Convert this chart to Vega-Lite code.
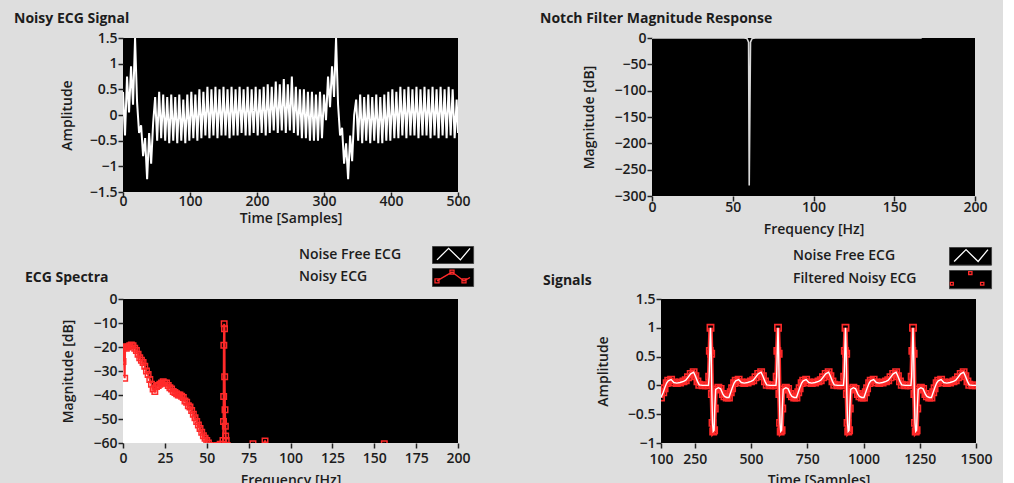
{
  "$schema": "https://vega.github.io/schema/vega-lite/v6.json",
  "background": "#dedede",
  "padding": {"left": 14, "top": 12, "right": 10, "bottom": 0},
  "bounds": "flush",
  "spacing": 261,
  "resolve": {"scale": {"color": "independent"}, "legend": {"color": "independent"}},
  "config": {
    "view": {"fill": "black", "stroke": null},
    "font": "Open Sans",
    "axis": {"labelFont": "Open Sans", "labelFontSize": 14, "labelFontWeight": 600, "labelColor": "#1c1c1c", "titleFont": "Open Sans", "titleFontSize": 14, "titleFontWeight": 600, "titleColor": "#1c1c1c", "tickColor": "#222222", "tickSize": 5, "tickWidth": 1.5, "domain": false, "grid": false, "labelFlush": false, "labelOverlap": false},
    "axisX": {"labelPadding": 0, "titleBaseline": "alphabetic"},
    "axisY": {"labelPadding": 1, "titleBaseline": "middle"},
    "title": {"font": "Open Sans", "fontSize": 14, "fontWeight": 700, "color": "#1c1c1c", "anchor": "start", "frame": "group", "baseline": "alphabetic"},
    "legend": {"labelFont": "Open Sans", "labelFontSize": 14, "labelFontWeight": 600, "labelColor": "#1c1c1c"}
  },
  "vconcat": [
    {
      "hconcat": [
        {
          "width": 335, "height": 154,
          "title": {"text": "Noisy ECG Signal", "dx": -109, "offset": 5},
          "data": {"values": [
{"t":0,"v":0.45},{"t":3,"v":-0.4},{"t":6,"v":0.75},{"t":9,"v":0.05},{"t":12,"v":0.95},{"t":15,"v":0.2},{"t":18,"v":1.5},{"t":21,"v":0.25},{"t":24,"v":-0.35},{"t":27,"v":-0.2},{"t":30,"v":-0.8},{"t":33,"v":-0.45},{"t":36,"v":-1.25},{"t":39,"v":-0.35},{"t":42,"v":-0.95},{"t":45,"v":-0.15},{"t":48,"v":0.35},{"t":51,"v":-0.5},{"t":54,"v":0.45},{"t":57,"v":-0.45},{"t":60,"v":0.4},{"t":63,"v":-0.5},{"t":66,"v":0.35},{"t":69,"v":-0.55},{"t":72,"v":0.4},{"t":75,"v":-0.5},{"t":78,"v":0.35},{"t":81,"v":-0.55},{"t":84,"v":0.4},{"t":87,"v":-0.5},{"t":90,"v":0.3},{"t":93,"v":-0.55},{"t":96,"v":0.4},{"t":99,"v":-0.5},{"t":102,"v":0.45},{"t":105,"v":-0.45},{"t":108,"v":0.4},{"t":111,"v":-0.5},{"t":114,"v":0.5},{"t":117,"v":-0.45},{"t":120,"v":0.45},{"t":123,"v":-0.4},{"t":126,"v":0.55},{"t":129,"v":-0.45},{"t":132,"v":0.5},{"t":135,"v":-0.4},{"t":138,"v":0.55},{"t":141,"v":-0.45},{"t":144,"v":0.5},{"t":147,"v":-0.4},{"t":150,"v":0.55},{"t":153,"v":-0.4},{"t":156,"v":0.5},{"t":159,"v":-0.45},{"t":162,"v":0.55},{"t":165,"v":-0.4},{"t":168,"v":0.5},{"t":171,"v":-0.4},{"t":174,"v":0.55},{"t":177,"v":-0.35},{"t":180,"v":0.5},{"t":183,"v":-0.4},{"t":186,"v":0.55},{"t":189,"v":-0.4},{"t":192,"v":0.5},{"t":195,"v":-0.35},{"t":198,"v":0.55},{"t":201,"v":-0.4},{"t":204,"v":0.5},{"t":207,"v":-0.35},{"t":210,"v":0.55},{"t":213,"v":-0.4},{"t":216,"v":0.6},{"t":219,"v":-0.35},{"t":222,"v":0.55},{"t":225,"v":-0.3},{"t":228,"v":0.65},{"t":231,"v":-0.35},{"t":234,"v":0.6},{"t":237,"v":-0.3},{"t":240,"v":0.7},{"t":243,"v":-0.35},{"t":246,"v":0.6},{"t":249,"v":-0.3},{"t":252,"v":0.75},{"t":255,"v":-0.35},{"t":258,"v":0.55},{"t":261,"v":-0.4},{"t":264,"v":0.5},{"t":267,"v":-0.45},{"t":270,"v":0.5},{"t":273,"v":-0.45},{"t":276,"v":0.45},{"t":279,"v":-0.5},{"t":282,"v":0.45},{"t":285,"v":-0.5},{"t":288,"v":0.4},{"t":291,"v":-0.5},{"t":294,"v":0.45},{"t":297,"v":-0.45},{"t":300,"v":0.4},{"t":303,"v":-0.1},{"t":306,"v":0.75},{"t":309,"v":0.15},{"t":312,"v":0.95},{"t":315,"v":0.35},{"t":318,"v":1.5},{"t":321,"v":0.2},{"t":324,"v":-0.4},{"t":327,"v":-0.25},{"t":330,"v":-0.95},{"t":333,"v":-0.55},{"t":336,"v":-1.25},{"t":339,"v":-0.4},{"t":342,"v":-0.9},{"t":345,"v":0.0},{"t":348,"v":0.3},{"t":351,"v":-0.5},{"t":354,"v":0.4},{"t":357,"v":-0.55},{"t":360,"v":0.35},{"t":363,"v":-0.5},{"t":366,"v":0.4},{"t":369,"v":-0.55},{"t":372,"v":0.35},{"t":375,"v":-0.5},{"t":378,"v":0.4},{"t":381,"v":-0.55},{"t":384,"v":0.35},{"t":387,"v":-0.55},{"t":390,"v":0.4},{"t":393,"v":-0.5},{"t":396,"v":0.45},{"t":399,"v":-0.5},{"t":402,"v":0.5},{"t":405,"v":-0.45},{"t":408,"v":0.45},{"t":411,"v":-0.45},{"t":414,"v":0.55},{"t":417,"v":-0.4},{"t":420,"v":0.5},{"t":423,"v":-0.45},{"t":426,"v":0.55},{"t":429,"v":-0.4},{"t":432,"v":0.5},{"t":435,"v":-0.4},{"t":438,"v":0.55},{"t":441,"v":-0.45},{"t":444,"v":0.5},{"t":447,"v":-0.4},{"t":450,"v":0.55},{"t":453,"v":-0.4},{"t":456,"v":0.5},{"t":459,"v":-0.45},{"t":462,"v":0.55},{"t":465,"v":-0.4},{"t":468,"v":0.5},{"t":471,"v":-0.45},{"t":474,"v":0.55},{"t":477,"v":-0.4},{"t":480,"v":0.5},{"t":483,"v":-0.45},{"t":486,"v":0.55},{"t":489,"v":-0.4},{"t":492,"v":0.5},{"t":495,"v":-0.45},{"t":498,"v":0.3},{"t":500,"v":-0.35}
          ]},
          "mark": {"type": "line", "color": "white", "strokeWidth": 2, "clip": true},
          "encoding": {
            "x": {"field": "t", "type": "quantitative", "scale": {"domain": [0, 500], "nice": false}, "axis": {"values": [0, 100, 200, 300, 400, 500], "title": "Time  [Samples]", "titleY": 30, "labelPadding": -3}},
            "y": {"field": "v", "type": "quantitative", "scale": {"domain": [-1.5, 1.5], "nice": false}, "axis": {"values": [-1.5, -1, -0.5, 0, 0.5, 1, 1.5], "format": "~g", "title": "Amplitude", "titleX": -56}}
          }
        },
        {
          "width": 323, "height": 158,
          "title": {"text": "Notch Filter Magnitude Response", "dx": -112, "offset": 5},
          "data": {"values": [
{"f":0,"db":0},{"f":57,"db":0},{"f":58.8,"db":-1},{"f":59.8,"db":-8},{"f":60.2,"db":-280},{"f":60.6,"db":-145},{"f":61.0,"db":-8},{"f":62,"db":-1},{"f":64,"db":0},{"f":167,"db":0}
          ]},
          "mark": {"type": "line", "color": "#d8d8d8", "strokeWidth": 1.6, "clip": true},
          "encoding": {
            "x": {"field": "f", "type": "quantitative", "scale": {"domain": [0, 200], "nice": false}, "axis": {"values": [0, 50, 100, 150, 200], "title": "Frequency [Hz]", "titleY": 37, "labelPadding": -1}},
            "y": {"field": "db", "type": "quantitative", "scale": {"domain": [-300, 0], "nice": false}, "axis": {"values": [-300, -250, -200, -150, -100, -50, 0], "title": "Magnitude [dB]", "titleX": -63}}
          }
        }
      ],
      "spacing": 194,
      "bounds": "flush"
    },
    {
      "hconcat": [
        {
          "width": 335, "height": 144,
          "title": {"text": "ECG Spectra", "dx": -98, "dy": 39, "offset": 0},
          "encoding": {
            "x": {"field": "f", "type": "quantitative", "scale": {"domain": [0, 200], "nice": false}, "axis": {"values": [0, 25, 50, 75, 100, 125, 150, 175, 200], "title": "Frequency [Hz]", "titleY": 41, "labelPadding": 3}},
            "y": {"field": "db", "type": "quantitative", "scale": {"domain": [-60, 0], "nice": false}, "axis": {"values": [-60, -50, -40, -30, -20, -10, 0], "title": "Magnitude [dB]", "titleX": -55}},
            "color": {
              "field": "series", "type": "nominal",
              "scale": {"domain": ["Noise Free ECG", "Noisy ECG"], "range": ["#ffffff", "#ff2a2a"]},
              "legend": {
                "orient": "none", "legendX": 309, "legendY": -53, "title": null, "padding": 0,
                "symbolSize": 1600, "symbolStrokeWidth": 1.5, "symbolFillColor": "black", "labelOffset": -175, "labelAlign": "left", "labelBaseline": "alphabetic", "rowPadding": 4,
                "encode": {
                  "entries": {"update": {"fill": {"value": "black"}, "stroke": {"value": "#444444"}, "width": {"value": 40}, "height": {"value": 17}}},
                  "symbols": {"update": {
                    "shape": {"signal": "datum.value === 'Noisy ECG' ? 'M-0.75,0.22L0,-0.22L0.6,0.22L0.9,0.05M-0.85,0.12h0.2v0.2h-0.2ZM-0.1,-0.32h0.2v0.2h-0.2ZM0.5,0.12h0.2v0.2h-0.2Z' : 'M-0.75,0.27L-0.17,-0.31L0.42,0.27L0.9,-0.31'"},
                    "fill": {"value": "black"},
                    "fillOpacity": {"value": 0},
                    "opacity": {"value": 1},
                    "stroke": {"signal": "datum.value === 'Noisy ECG' ? '#ff2a2a' : '#ffffff'"},
                    "strokeWidth": {"value": 1.3},
                    "size": {"value": 1600},
                    "x": {"value": 20}, "y": {"value": 8.5}
                  }},
                  "labels": {"update": {"y": {"value": 13}, "opacity": {"value": 1}}}
                }
              }
            }
          },
          "layer": [
            {
              "data": {"values": [
{"series":"Noise Free ECG","f":0,"db":-20},{"series":"Noise Free ECG","f":0.5,"db":-19.5},{"series":"Noise Free ECG","f":1,"db":-20},{"series":"Noise Free ECG","f":1.5,"db":-24},{"series":"Noise Free ECG","f":2,"db":-21},{"series":"Noise Free ECG","f":3,"db":-20.5},{"series":"Noise Free ECG","f":4,"db":-19.5},{"series":"Noise Free ECG","f":5,"db":-19},{"series":"Noise Free ECG","f":6,"db":-19.5},{"series":"Noise Free ECG","f":7,"db":-20},{"series":"Noise Free ECG","f":8,"db":-21.5},{"series":"Noise Free ECG","f":9,"db":-23},{"series":"Noise Free ECG","f":10,"db":-24.5},{"series":"Noise Free ECG","f":11,"db":-25.5},{"series":"Noise Free ECG","f":12,"db":-27},{"series":"Noise Free ECG","f":13,"db":-28.5},{"series":"Noise Free ECG","f":14,"db":-30.5},{"series":"Noise Free ECG","f":15,"db":-32},{"series":"Noise Free ECG","f":16,"db":-34},{"series":"Noise Free ECG","f":17,"db":-35.5},{"series":"Noise Free ECG","f":18,"db":-37.5},{"series":"Noise Free ECG","f":19,"db":-38},{"series":"Noise Free ECG","f":20,"db":-37},{"series":"Noise Free ECG","f":21,"db":-36.5},{"series":"Noise Free ECG","f":22,"db":-36},{"series":"Noise Free ECG","f":23,"db":-35.5},{"series":"Noise Free ECG","f":24,"db":-35},{"series":"Noise Free ECG","f":25,"db":-35},{"series":"Noise Free ECG","f":26,"db":-35.5},{"series":"Noise Free ECG","f":27,"db":-36},{"series":"Noise Free ECG","f":28,"db":-37},{"series":"Noise Free ECG","f":29,"db":-38},{"series":"Noise Free ECG","f":30,"db":-38.5},{"series":"Noise Free ECG","f":31,"db":-39.5},{"series":"Noise Free ECG","f":32,"db":-40},{"series":"Noise Free ECG","f":33,"db":-40},{"series":"Noise Free ECG","f":34,"db":-40.5},{"series":"Noise Free ECG","f":35,"db":-41},{"series":"Noise Free ECG","f":36,"db":-41.5},{"series":"Noise Free ECG","f":37,"db":-42.5},{"series":"Noise Free ECG","f":38,"db":-43.5},{"series":"Noise Free ECG","f":39,"db":-44.5},{"series":"Noise Free ECG","f":40,"db":-45.5},{"series":"Noise Free ECG","f":41,"db":-47},{"series":"Noise Free ECG","f":42,"db":-48.5},{"series":"Noise Free ECG","f":43,"db":-50},{"series":"Noise Free ECG","f":44,"db":-51.5},{"series":"Noise Free ECG","f":45,"db":-53},{"series":"Noise Free ECG","f":46,"db":-54.5},{"series":"Noise Free ECG","f":47,"db":-56},{"series":"Noise Free ECG","f":48,"db":-57},{"series":"Noise Free ECG","f":49,"db":-58},{"series":"Noise Free ECG","f":50,"db":-59},{"series":"Noise Free ECG","f":51,"db":-60},{"series":"Noise Free ECG","f":52,"db":-61}
              ]},
              "mark": {"type": "area", "clip": true, "opacity": 1},
              "encoding": {"y2": {"datum": -60}}
            },
            {
              "data": {"values": [
{"series":"Noisy ECG","f":0,"db":-26},{"series":"Noisy ECG","f":0.4,"db":-20},{"series":"Noisy ECG","f":1,"db":-33},{"series":"Noisy ECG","f":1.3,"db":-20},{"series":"Noisy ECG","f":2,"db":-20.5},{"series":"Noisy ECG","f":3,"db":-20},{"series":"Noisy ECG","f":4,"db":-19.5},{"series":"Noisy ECG","f":5,"db":-19.2},{"series":"Noisy ECG","f":6,"db":-19.5},{"series":"Noisy ECG","f":7,"db":-20.5},{"series":"Noisy ECG","f":8,"db":-21.5},{"series":"Noisy ECG","f":9,"db":-23},{"series":"Noisy ECG","f":10,"db":-24.5},{"series":"Noisy ECG","f":11,"db":-25.5},{"series":"Noisy ECG","f":12,"db":-26.5},{"series":"Noisy ECG","f":13,"db":-28},{"series":"Noisy ECG","f":14,"db":-30},{"series":"Noisy ECG","f":15,"db":-31.5},{"series":"Noisy ECG","f":16,"db":-33.5},{"series":"Noisy ECG","f":17,"db":-35.5},{"series":"Noisy ECG","f":18,"db":-37.5},{"series":"Noisy ECG","f":19,"db":-38.5},{"series":"Noisy ECG","f":20,"db":-36.5},{"series":"Noisy ECG","f":21,"db":-36},{"series":"Noisy ECG","f":22,"db":-35.5},{"series":"Noisy ECG","f":23,"db":-35},{"series":"Noisy ECG","f":24,"db":-34.5},{"series":"Noisy ECG","f":25,"db":-35},{"series":"Noisy ECG","f":26,"db":-35},{"series":"Noisy ECG","f":27,"db":-36},{"series":"Noisy ECG","f":28,"db":-37},{"series":"Noisy ECG","f":29,"db":-37.5},{"series":"Noisy ECG","f":30,"db":-38.5},{"series":"Noisy ECG","f":31,"db":-39},{"series":"Noisy ECG","f":32,"db":-39.5},{"series":"Noisy ECG","f":33,"db":-40},{"series":"Noisy ECG","f":34,"db":-40},{"series":"Noisy ECG","f":35,"db":-40.5},{"series":"Noisy ECG","f":36,"db":-41},{"series":"Noisy ECG","f":37,"db":-42.5},{"series":"Noisy ECG","f":38,"db":-43},{"series":"Noisy ECG","f":39,"db":-44.5},{"series":"Noisy ECG","f":40,"db":-45},{"series":"Noisy ECG","f":41,"db":-46.5},{"series":"Noisy ECG","f":42,"db":-48},{"series":"Noisy ECG","f":43,"db":-49.5},{"series":"Noisy ECG","f":44,"db":-51},{"series":"Noisy ECG","f":45,"db":-52.5},{"series":"Noisy ECG","f":46,"db":-54},{"series":"Noisy ECG","f":47,"db":-55.5},{"series":"Noisy ECG","f":48,"db":-57},{"series":"Noisy ECG","f":49,"db":-58},{"series":"Noisy ECG","f":50,"db":-59},{"series":"Noisy ECG","f":51,"db":-60},{"series":"Noisy ECG","f":52,"db":-61},{"series":"Noisy ECG","f":54,"db":-62},{"series":"Noisy ECG","f":56,"db":-61},{"series":"Noisy ECG","f":58,"db":-60.5},{"series":"Noisy ECG","f":59.3,"db":-60.5},{"series":"Noisy ECG","f":59.7,"db":-59},{"series":"Noisy ECG","f":60.0,"db":-51},{"series":"Noisy ECG","f":60.1,"db":-40.6},{"series":"Noisy ECG","f":60.2,"db":-19.3},{"series":"Noisy ECG","f":60.4,"db":-10.3},{"series":"Noisy ECG","f":60.6,"db":-12.4},{"series":"Noisy ECG","f":60.7,"db":-32.4},{"series":"Noisy ECG","f":60.9,"db":-46.1},{"series":"Noisy ECG","f":61.1,"db":-53},{"series":"Noisy ECG","f":61.3,"db":-57.1},{"series":"Noisy ECG","f":61.6,"db":-59},{"series":"Noisy ECG","f":62.2,"db":-61},{"series":"Noisy ECG","f":70,"db":-63},{"series":"Noisy ECG","f":77.6,"db":-60.3},{"series":"Noisy ECG","f":81,"db":-63},{"series":"Noisy ECG","f":84.8,"db":-59.2},{"series":"Noisy ECG","f":89,"db":-63},{"series":"Noisy ECG","f":120,"db":-64},{"series":"Noisy ECG","f":156,"db":-60.3},{"series":"Noisy ECG","f":160,"db":-63},{"series":"Noisy ECG","f":200,"db":-64}
              ]},
              "mark": {"type": "line", "clip": true, "strokeWidth": 2, "point": {"filled": false, "shape": "square", "size": 30, "strokeWidth": 1.5}}
            }
          ]
        },
        {
          "width": 315, "height": 144,
          "title": {"text": "Signals", "dx": -118, "dy": 41, "offset": 0},
          "data": {"values": [
{"t":100,"v":-0.21},{"t":110,"v":-0.12},{"t":116,"v":-0.05},{"t":125,"v":0.04},{"t":132,"v":0.08},{"t":145,"v":0.1},{"t":157,"v":0.05},{"t":170,"v":0.04},{"t":185,"v":0.05},{"t":200,"v":0.07},{"t":210,"v":0.09},{"t":220,"v":0.14},{"t":232,"v":0.2},{"t":245,"v":0.23},{"t":253,"v":0.16},{"t":262,"v":0.07},{"t":270,"v":0.01},{"t":285,"v":0.0},{"t":300,"v":0.0},{"t":311,"v":0.0},{"t":314,"v":0.15},{"t":317,"v":0.6},
{"t":320,"v":1.0},{"t":323,"v":0.55},{"t":326,"v":-0.15},{"t":329,"v":-0.65},{"t":332,"v":-0.8},{"t":336,"v":-0.78},{"t":339,"v":-0.4},{"t":343,"v":-0.07},{"t":355,"v":-0.04},{"t":365,"v":-0.06},{"t":375,"v":-0.15},{"t":382,"v":-0.19},{"t":392,"v":-0.21},{"t":402,"v":-0.21},{"t":410,"v":-0.12},{"t":416,"v":-0.05},{"t":425,"v":0.04},{"t":432,"v":0.08},{"t":445,"v":0.1},{"t":457,"v":0.05},{"t":470,"v":0.04},{"t":485,"v":0.05},{"t":500,"v":0.07},{"t":510,"v":0.09},{"t":520,"v":0.14},{"t":532,"v":0.2},{"t":545,"v":0.23},{"t":553,"v":0.16},{"t":562,"v":0.07},{"t":570,"v":0.01},{"t":585,"v":0.0},{"t":600,"v":0.0},{"t":611,"v":0.0},{"t":614,"v":0.15},{"t":617,"v":0.6},
{"t":620,"v":1.0},{"t":623,"v":0.55},{"t":626,"v":-0.15},{"t":629,"v":-0.65},{"t":632,"v":-0.8},{"t":636,"v":-0.78},{"t":639,"v":-0.4},{"t":643,"v":-0.07},{"t":655,"v":-0.04},{"t":665,"v":-0.06},{"t":675,"v":-0.15},{"t":682,"v":-0.19},{"t":692,"v":-0.21},{"t":702,"v":-0.21},{"t":710,"v":-0.12},{"t":716,"v":-0.05},{"t":725,"v":0.04},{"t":732,"v":0.08},{"t":745,"v":0.1},{"t":757,"v":0.05},{"t":770,"v":0.04},{"t":785,"v":0.05},{"t":800,"v":0.07},{"t":810,"v":0.09},{"t":820,"v":0.14},{"t":832,"v":0.2},{"t":845,"v":0.23},{"t":853,"v":0.16},{"t":862,"v":0.07},{"t":870,"v":0.01},{"t":885,"v":0.0},{"t":900,"v":0.0},{"t":911,"v":0.0},{"t":914,"v":0.15},{"t":917,"v":0.6},
{"t":920,"v":1.0},{"t":923,"v":0.55},{"t":926,"v":-0.15},{"t":929,"v":-0.65},{"t":932,"v":-0.8},{"t":936,"v":-0.78},{"t":939,"v":-0.4},{"t":943,"v":-0.07},{"t":955,"v":-0.04},{"t":965,"v":-0.06},{"t":975,"v":-0.15},{"t":982,"v":-0.19},{"t":992,"v":-0.21},{"t":1002,"v":-0.21},{"t":1010,"v":-0.12},{"t":1016,"v":-0.05},{"t":1025,"v":0.04},{"t":1032,"v":0.08},{"t":1045,"v":0.1},{"t":1057,"v":0.05},{"t":1070,"v":0.04},{"t":1085,"v":0.05},{"t":1100,"v":0.07},{"t":1110,"v":0.09},{"t":1120,"v":0.14},{"t":1132,"v":0.2},{"t":1145,"v":0.23},{"t":1153,"v":0.16},{"t":1162,"v":0.07},{"t":1170,"v":0.01},{"t":1185,"v":0.0},{"t":1200,"v":0.0},{"t":1211,"v":0.0},{"t":1214,"v":0.15},{"t":1217,"v":0.6},
{"t":1220,"v":1.0},{"t":1223,"v":0.55},{"t":1226,"v":-0.15},{"t":1229,"v":-0.65},{"t":1232,"v":-0.8},{"t":1236,"v":-0.78},{"t":1239,"v":-0.4},{"t":1243,"v":-0.07},{"t":1255,"v":-0.04},{"t":1265,"v":-0.06},{"t":1275,"v":-0.15},{"t":1282,"v":-0.19},{"t":1292,"v":-0.21},{"t":1302,"v":-0.21},{"t":1310,"v":-0.12},{"t":1316,"v":-0.05},{"t":1325,"v":0.04},{"t":1332,"v":0.08},{"t":1345,"v":0.1},{"t":1357,"v":0.05},{"t":1370,"v":0.04},{"t":1385,"v":0.05},{"t":1400,"v":0.07},{"t":1410,"v":0.09},{"t":1420,"v":0.14},{"t":1432,"v":0.2},{"t":1445,"v":0.23},{"t":1453,"v":0.16},{"t":1462,"v":0.07},{"t":1470,"v":0.01},{"t":1485,"v":0.0},{"t":1500,"v":0.0}
          ]},
          "encoding": {
            "x": {"field": "t", "type": "quantitative", "scale": {"domain": [100, 1500], "nice": false}, "axis": {"values": [100, 250, 500, 750, 1000, 1250, 1500], "format": "d", "title": "Time  [Samples]", "titleY": 41, "labelPadding": 4}},
            "y": {"field": "v", "type": "quantitative", "scale": {"domain": [-1, 1.5], "nice": false}, "axis": {"values": [-1, -0.5, 0, 0.5, 1, 1.5], "format": "~g", "title": "Amplitude", "titleX": -58}}
          },
          "layer": [
            {
              "mark": {"type": "line", "clip": true, "strokeWidth": 4.5, "point": {"filled": false, "shape": "square", "size": 40, "strokeWidth": 1.6}},
              "encoding": {
                "color": {
                  "datum": "Filtered Noisy ECG", "type": "nominal",
                  "scale": {"domain": ["Noise Free ECG", "Filtered Noisy ECG"], "range": ["#ffffff", "#ff2a2a"]},
                  "legend": {
                    "orient": "none", "legendX": 288, "legendY": -52, "title": null, "padding": 0,
                    "symbolSize": 1681, "symbolStrokeWidth": 1.5, "symbolFillColor": "black", "labelOffset": -199, "labelAlign": "left", "labelBaseline": "alphabetic", "rowPadding": 3,
                    "encode": {
                      "entries": {"update": {"fill": {"value": "black"}, "stroke": {"value": "#444444"}, "width": {"value": 41}, "height": {"value": 18}}},
                      "symbols": {"update": {
                        "shape": {"signal": "datum.value === 'Filtered Noisy ECG' ? 'M-0.93,0.16h0.14v0.14h-0.14ZM-0.04,-0.36h0.16v0.14h-0.16ZM0.54,0.16h0.16v0.14h-0.16Z' : 'M-0.75,0.27L-0.17,-0.31L0.42,0.27L0.9,-0.31'"},
                        "fill": {"value": "black"},
                        "fillOpacity": {"value": 0},
                        "stroke": {"signal": "datum.value === 'Filtered Noisy ECG' ? '#ff2a2a' : '#ffffff'"},
                        "strokeWidth": {"value": 1.3},
                        "x": {"value": 20.5}, "y": {"value": 9}
                      }},
                      "labels": {"update": {"y": {"value": 13}}}
                    }
                  }
                }
              }
            },
            {
              "mark": {"type": "line", "clip": true, "strokeWidth": 1.4},
              "encoding": {
                "color": {"datum": "Noise Free ECG", "type": "nominal"}
              }
            }
          ]
        }
      ],
      "spacing": 203,
      "bounds": "flush",
      "resolve": {"scale": {"color": "independent"}, "legend": {"color": "independent"}}
    }
  ]
}
